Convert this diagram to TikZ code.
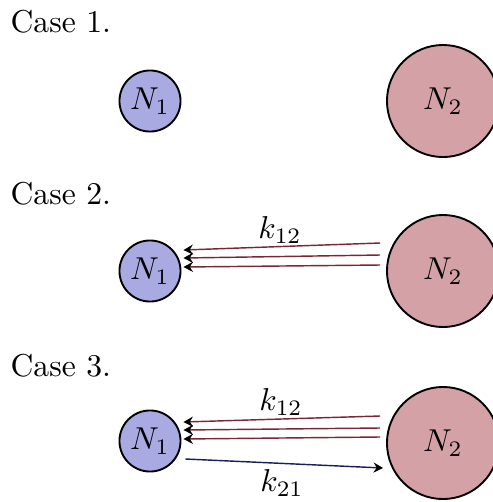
\documentclass[tikz,border=0pt]{standalone}
\usetikzlibrary{arrows.meta, calc}
\definecolor{popone}{RGB}{170,170,226}
\definecolor{poptwo}{RGB}{212,162,166}
\definecolor{rateback}{RGB}{122,38,52}
\definecolor{ratefwd}{RGB}{22,32,92}
\tikzstyle{smallpop} = [circle, draw=black, semithick, fill=popone, minimum size=19.3pt, inner sep=0pt]
\tikzstyle{bigpop} = [circle, draw=black, semithick, fill=poptwo, minimum size=35.4pt, inner sep=0pt]
\tikzstyle{casetxt} = [anchor=west, inner sep=0pt]
\tikzstyle{back} = [rateback, line width=0.45pt, -{Stealth[length=3pt, width=3.2pt, inset=1pt, color=black]}]
\tikzstyle{fwd} = [ratefwd, line width=0.45pt, -{Stealth[length=3pt, width=3.2pt, inset=1pt, color=black]}]

\begin{document}
\begin{tikzpicture}[x=0.316pt, y=-0.316pt]
\clip (0,0) rectangle (493,502);
\useasboundingbox (0,0) rectangle (493,502);

% --- case 1 ---
\node (case1) [casetxt] at (10,22) {Case 1.};
\node (n1a) [smallpop] at (150,101) {$N_1$};
\node (n2a) [bigpop] at (443,101) {$N_2$};

% --- case 2 ---
\node (case2) [casetxt] at (10,194) {Case 2.};
\node (n1b) [smallpop] at (150,271) {$N_1$};
\node (n2b) [bigpop] at (443,271) {$N_2$};
\coordinate (b1s) at ($(n2b.west)+(-6,-28)$);
\coordinate (b2s) at ($(n2b.west)+(-6,-16)$);
\coordinate (b3s) at ($(n2b.west)+(-6,-6)$);
\coordinate (b1e) at ($(n1b.east)+(2,-21)$);
\coordinate (b2e) at ($(n1b.east)+(2,-13)$);
\coordinate (b3e) at ($(n1b.east)+(2,-4)$);
\draw[back] (b1s) -- (b1e);
\draw[back] (b2s) -- (b2e);
\draw[back] (b3s) -- (b3e);
\node (k12b) at (280,230) {$k_{12}$};

% --- case 3 ---
\node (case3) [casetxt] at (10,366) {Case 3.};
\node (n1c) [smallpop] at (150,441) {$N_1$};
\node (n2c) [bigpop] at (443,443) {$N_2$};
\coordinate (c1s) at ($(n2c.west)+(-6,-27)$);
\coordinate (c2s) at ($(n2c.west)+(-6,-15)$);
\coordinate (c3s) at ($(n2c.west)+(-6,-6)$);
\coordinate (c1e) at ($(n1c.east)+(2,-19)$);
\coordinate (c2e) at ($(n1c.east)+(2,-11)$);
\coordinate (c3e) at ($(n1c.east)+(2,-2)$);
\coordinate (c4s) at ($(n1c.east)+(4,18)$);
\coordinate (c4e) at ($(n2c.west)+(-3,25)$);
\draw[back] (c1s) -- (c1e);
\draw[back] (c2s) -- (c2e);
\draw[back] (c3s) -- (c3e);
\draw[fwd] (c4s) -- (c4e);
\node (k12c) at (281,402) {$k_{12}$};
\node (k21c) at (282,483) {$k_{21}$};
\end{tikzpicture}
\end{document}
